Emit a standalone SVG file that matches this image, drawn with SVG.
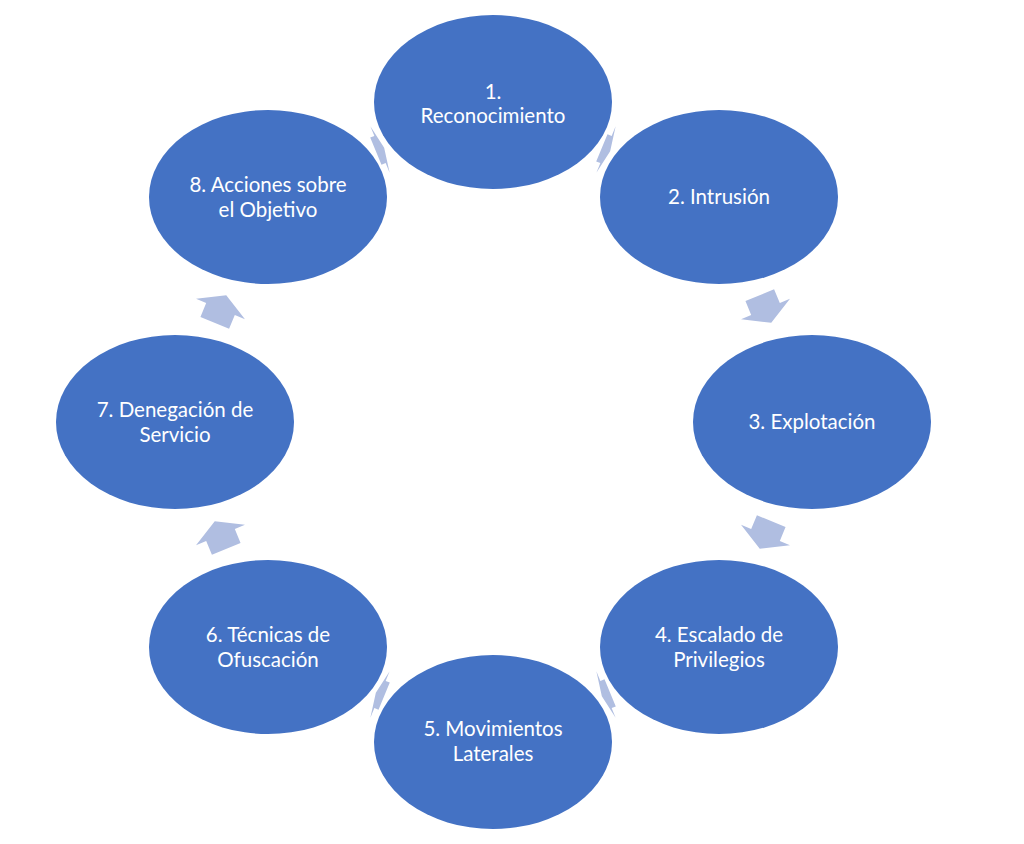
<svg xmlns="http://www.w3.org/2000/svg" width="1024" height="844" viewBox="0 0 1024 844">
<style>
.node{fill:#4472C4;}
.arr{fill:#B0BEE1;}
.lbl{fill:#FFFFFF;font-family:Lato,"Liberation Sans",sans-serif;font-size:20.5px;text-anchor:middle;}
</style>
<defs>
<polygon id="ar" points="-15,-15.5 0,-15.5 0,-26.5 15,0 0,26.5 0,15.5 -15,15.5"/>
</defs>
<rect width="1024" height="844" fill="#FFFFFF"/>
<g id="connectors">
<use href="#ar" class="arr" transform="translate(606,149.5) rotate(22.5) scale(0.3,0.95)"/>
<use href="#ar" class="arr" transform="translate(765.5,309) rotate(67.5)"/>
<use href="#ar" class="arr" transform="translate(765.5,535) rotate(112.5)"/>
<use href="#ar" class="arr" transform="translate(606,694.5) rotate(157.5) scale(0.3,0.95)"/>
<use href="#ar" class="arr" transform="translate(380,694.5) rotate(202.5) scale(0.3,0.95)"/>
<use href="#ar" class="arr" transform="translate(220.5,535) rotate(247.5)"/>
<use href="#ar" class="arr" transform="translate(220.5,309) rotate(292.5)"/>
<use href="#ar" class="arr" transform="translate(380,149.5) rotate(337.5) scale(0.3,0.95)"/>
</g>
<g id="n1"><ellipse class="node" cx="493" cy="102" rx="119" ry="87"/>
<text class="lbl" x="493" y="99">1.</text><text class="lbl" x="493" y="123">Reconocimiento</text></g>
<g id="n2"><ellipse class="node" cx="719" cy="197" rx="119" ry="87"/>
<text class="lbl" x="719" y="204">2. Intrusión</text></g>
<g id="n3"><ellipse class="node" cx="812" cy="422" rx="119" ry="87"/>
<text class="lbl" x="812" y="429">3. Explotación</text></g>
<g id="n4"><ellipse class="node" cx="719" cy="647" rx="119" ry="87"/>
<text class="lbl" x="719" y="642">4. Escalado de</text><text class="lbl" x="719" y="667">Privilegios</text></g>
<g id="n5"><ellipse class="node" cx="493" cy="742" rx="119" ry="87"/>
<text class="lbl" x="493" y="736">5. Movimientos</text><text class="lbl" x="493" y="761">Laterales</text></g>
<g id="n6"><ellipse class="node" cx="268" cy="647" rx="119" ry="87"/>
<text class="lbl" x="268" y="642">6. Técnicas de</text><text class="lbl" x="268" y="667">Ofuscación</text></g>
<g id="n7"><ellipse class="node" cx="175" cy="422" rx="119" ry="87"/>
<text class="lbl" x="175" y="417">7. Denegación de</text><text class="lbl" x="175" y="442">Servicio</text></g>
<g id="n8"><ellipse class="node" cx="268" cy="197" rx="119" ry="87"/>
<text class="lbl" x="268" y="192">8. Acciones sobre</text><text class="lbl" x="268" y="217">el Objetivo</text></g>
</svg>
